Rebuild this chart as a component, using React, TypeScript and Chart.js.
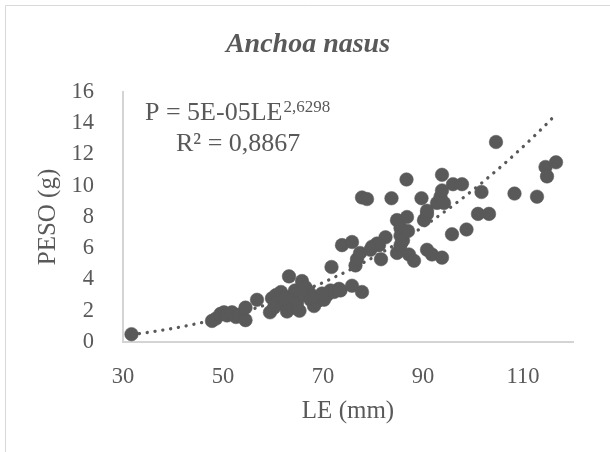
import React, { useEffect, useRef } from "react";
import { Chart, registerables } from "chart.js";

Chart.register(...registerables);

// ---- Data ----
const LE: number[] = [
  31.7, 47.8, 48.6, 49.5, 50.2, 50.8, 51.8, 52.6, 53.4, 54.5,
  54.5, 56.8, 59.4, 59.8, 60.6, 61.2, 61.6, 62.2, 62.8, 63.2,
  63.5, 64.0, 64.4, 64.8, 65.3, 65.8, 66.2, 66.5, 67.2, 67.5,
  68.2, 68.8, 69.5, 70.2, 70.8, 71.5, 71.7, 72.2, 73.2, 73.5,
  73.8, 75.8, 75.8, 77.8, 76.5, 76.8, 77.4, 77.8, 78.8, 79.8,
  80.8, 81.6, 82.5, 83.7, 84.8, 84.8, 85.5, 85.5, 85.5, 86.8,
  86.7, 87.2, 88.2, 89.7, 90.2, 90.8, 90.8, 91.8, 92.8, 93.5,
  93.8, 93.8, 93.8, 94.2, 95.8, 96.0, 97.8, 98.7, 101.0, 101.7,
  103.2, 104.6, 108.3, 112.8, 114.5, 114.8, 116.6, 86.0, 87.0, 81.2,
  79.5, 90.8, 68.2, 69.8, 60.2, 62.5,
];
const PESO: number[] = [
  0.5, 1.35, 1.5, 1.8, 1.9, 1.7, 1.9, 1.6, 1.75, 1.4,
  2.2, 2.7, 1.9, 2.8, 3.0, 2.6, 3.2, 2.4, 1.95, 4.2,
  2.9, 2.2, 3.3, 2.5, 2.0, 3.9, 3.0, 3.5, 3.2, 2.7,
  2.3, 2.6, 2.9, 2.7, 3.0, 3.3, 4.8, 3.2, 3.4, 3.3,
  6.2, 6.4, 3.6, 3.2, 4.9, 5.3, 5.7, 9.25, 9.15, 6.1,
  6.3, 5.3, 6.7, 9.2, 5.7, 7.8, 7.3, 6.8, 6.2, 8.0,
  10.4, 5.6, 5.2, 9.2, 7.8, 8.2, 5.9, 5.6, 8.9, 9.3,
  9.7, 10.7, 5.4, 8.9, 6.9, 10.1, 10.1, 7.2, 8.2, 9.6,
  8.2, 12.8, 9.5, 9.3, 11.2, 10.6, 11.5, 6.5, 7.1, 6.2,
  5.9, 8.4, 2.9, 3.1, 2.2, 2.8,
];
const X_TICKS: number[] = [30, 50, 70, 90, 110];
const Y_TICKS: number[] = [0, 2, 4, 6, 8, 10, 12, 14, 16];
const X_MIN = 30;
const X_MAX = 120;

const TITLE = "Anchoa nasus";
const X_TITLE = "LE (mm)";
const Y_TITLE = "PESO (g)";
const EQ_MAIN = "P = 5E-05LE";
const EQ_EXP = "2,6298";
const R2_TEXT = "R² = 0,8867";

// power trendline shown in the chart: P = a * LE^b
const TREND_A = 5.35e-5;
const TREND_B = 2.6298;

const GREY = "#595959";
const AXIS_GREY = "#d4d4d4";
const BORDER_GREY = "#d9d9d9";
const SERIF = '"Liberation Serif", "Times New Roman", serif';

export default function App() {
  const ref = useRef<HTMLCanvasElement | null>(null);

  useEffect(() => {
    const canvas = ref.current;
    if (!canvas) return;

    const points = LE.map((x, i) => ({ x, y: PESO[i] }));
    const lo = Math.min(...LE);
    const hi = Math.max(...LE);
    const trend: { x: number; y: number }[] = [];
    for (let x = lo; x <= hi + 1e-9; x += 0.5) {
      trend.push({ x, y: TREND_A * Math.pow(x, TREND_B) });
    }

    const decor = {
      id: "decor",
      beforeDraw(chart: any) {
        const ctx = chart.ctx;
        ctx.save();
        ctx.fillStyle = "#ffffff";
        ctx.fillRect(0, 0, chart.width, chart.height);
        ctx.strokeStyle = BORDER_GREY;
        ctx.lineWidth = 1;
        ctx.beginPath();
        ctx.moveTo(5.5, chart.height + 2);
        ctx.lineTo(5.5, 5.5);
        ctx.lineTo(chart.width + 2, 5.5);
        ctx.stroke();
        ctx.restore();
      },
      afterDatasetsDraw(chart: any) {
        const ctx = chart.ctx;
        ctx.save();
        ctx.fillStyle = GREY;
        ctx.textBaseline = "alphabetic";
        // title
        ctx.font = `italic bold 28px ${SERIF}`;
        ctx.textAlign = "center";
        ctx.fillText(TITLE, 308, 52);
        // equation
        ctx.textAlign = "left";
        ctx.font = `26px ${SERIF}`;
        const x0 = 145;
        ctx.fillText(EQ_MAIN, x0, 120);
        const w = ctx.measureText(EQ_MAIN).width;
        ctx.font = `17px ${SERIF}`;
        ctx.fillText(EQ_EXP, x0 + w + 1, 112);
        ctx.font = `26px ${SERIF}`;
        ctx.fillText(R2_TEXT, 176, 151);
        ctx.restore();
      },
    };

    const chart = new Chart(canvas, {
      type: "scatter",
      data: {
        datasets: [
          {
            label: "trend",
            data: trend,
            showLine: true,
            pointRadius: 0,
            borderColor: GREY,
            borderWidth: 3.3,
            borderDash: [0.1, 7.8],
            borderCapStyle: "round",
            fill: false,
            order: 0,
          } as any,
          {
            label: "PESO",
            data: points,
            pointRadius: 6.8,
            pointBackgroundColor: GREY,
            pointBorderColor: GREY,
            pointBorderWidth: 0.5,
            order: 1,
          },
        ],
      },
      options: {
        responsive: false,
        animation: false,
        events: [],
        layout: { padding: { left: 0, top: 92, right: 37, bottom: 0 } },
        plugins: {
          legend: { display: false },
          tooltip: { enabled: false },
          title: { display: false },
        },
        scales: {
          x: {
            type: "linear",
            min: X_MIN,
            max: X_MAX,
            afterBuildTicks(scale: any) {
              scale.ticks = X_TICKS.map((v) => ({ value: v }));
            },
            afterFit(scale: any) {
              scale.height = 110;
            },
            grid: { display: false },
            border: { display: true, color: AXIS_GREY, width: 2 },
            ticks: {
              color: GREY,
              font: { family: SERIF, size: 22.5 },
              padding: 14,
              maxRotation: 0,
              autoSkip: false,
            },
            title: {
              display: true,
              text: X_TITLE,
              color: GREY,
              font: { family: SERIF, size: 25 },
              padding: { top: 0, bottom: 26 },
            },
          },
          y: {
            type: "linear",
            min: 0,
            max: 16,
            afterBuildTicks(scale: any) {
              scale.ticks = Y_TICKS.map((v) => ({ value: v }));
            },
            afterFit(scale: any) {
              scale.width = 123;
            },
            grid: { display: false },
            border: { display: true, color: AXIS_GREY, width: 2 },
            ticks: {
              color: GREY,
              font: { family: SERIF, size: 22.5 },
              padding: 21,
              autoSkip: false,
            },
            title: {
              display: true,
              text: Y_TITLE,
              color: GREY,
              font: { family: SERIF, size: 25 },
              padding: { top: 33, bottom: 0 },
            },
          },
        },
      },
      plugins: [decor],
    });

    return () => chart.destroy();
  }, []);

  return (
    <canvas
      ref={ref}
      width={610}
      height={452}
      style={{ position: "fixed", left: 0, top: 0, display: "block", width: 610, height: 452 }}
    />
  );
}
